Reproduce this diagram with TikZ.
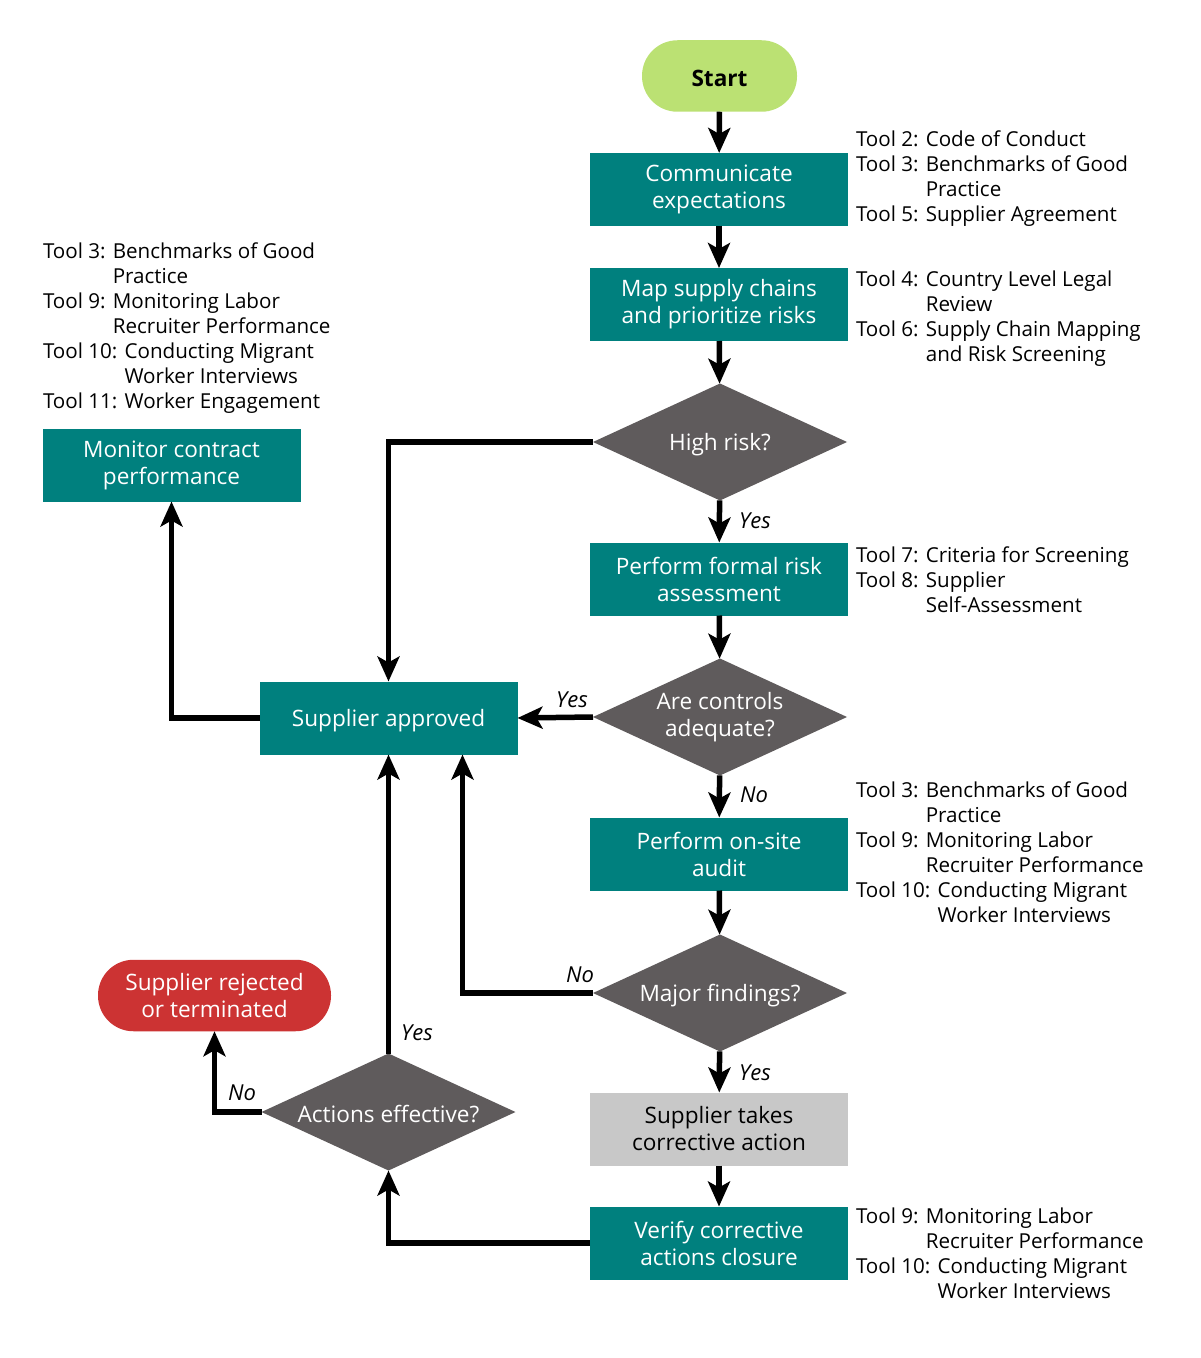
\documentclass[tikz,border=0pt]{standalone}
\usepackage{fontspec}
\setmainfont{Open Sans}
\usetikzlibrary{shapes.geometric,arrows.meta,calc}
\definecolor{teal1}{RGB}{0,128,126}
\definecolor{dgray}{RGB}{95,91,92}
\definecolor{lgreen}{RGB}{187,225,115}
\definecolor{red1}{RGB}{204,51,51}
\definecolor{lgray}{RGB}{200,200,200}
\newcommand{\ind}[1]{\phantom{#1}}
\tikzset{
  every node/.style={inner sep=0pt, outer sep=0pt},
  proc/.style={rectangle, fill=teal1, text=white, minimum width=129pt, minimum height=36.5pt,
    align=center, font=\fontsize{11.3}{13.5}\selectfont, execute at begin node={\rule{0pt}{11.5pt}}},
  graybox/.style={proc, fill=lgray, text=black},
  decision/.style={diamond, aspect=2.17, fill=dgray, text=white, minimum width=127pt, minimum height=58.5pt,
    align=center, font=\fontsize{11.3}{13.5}\selectfont, execute at begin node={\rule{0pt}{11pt}}},
  term/.style={rectangle, rounded corners=17.75pt, minimum height=35.75pt, align=center,
    font=\fontsize{11.3}{13.5}\selectfont, execute at begin node={\rule{0pt}{11pt}}},
  tools/.style={anchor=base west, align=left, font=\fontsize{10.3}{12.45}\selectfont},
  lab/.style={font=\fontsize{11}{13}\selectfont\itshape},
  arr/.style={line width=2.75pt, -{Stealth[length=12.5pt, width=11pt, inset=3pt]}},
}
\begin{document}
\begin{tikzpicture}[x=0.5pt, y=-0.5pt]
\useasboundingbox (0,0) rectangle (1200,1358);
% nodes
\node[term, fill=lgreen, minimum width=77.5pt, font=\fontsize{11.3}{13.5}\selectfont\bfseries] (start) at (719.5,76) {Start};
\node[proc] (comm) at (719,189.5) {Communicate\\expectations};
\node[proc] (map) at (719,304.5) {Map supply chains\\and prioritize risks};
\node[decision] (hr) at (720,442) {High risk?};
\node[proc] (pfra) at (719,579) {Perform formal risk\\assessment};
\node[decision] (ac) at (720,717) {Are controls\\adequate?};
\node[proc] (audit) at (719,854) {Perform on-site\\audit};
\node[decision] (mf) at (720,993) {Major findings?};
\node[graybox] (sup) at (719,1129) {Supplier takes\\corrective action};
\node[proc] (ver) at (719,1243) {Verify corrective\\actions closure};
\node[proc] (sa) at (388.5,718) {Supplier approved};
\node[proc] (mon) at (171.5,465) {Monitor contract\\performance};
\node[decision] (ae) at (388.5,1112) {Actions effective?};
\node[term, fill=red1, text=white, minimum width=116.5pt] (rej) at (214.5,995.5) {Supplier rejected\\or terminated};
% tool texts (anchored at the baseline of the last line)
\node[tools] (t1) at (856,221.2) {Tool 2: Code of Conduct\\Tool 3: Benchmarks of Good\\\ind{Tool 3: }Practice\\Tool 5: Supplier Agreement};
\node[tools] (t2) at (856,361.2) {Tool 4: Country Level Legal\\\ind{Tool 4: }Review\\Tool 6: Supply Chain Mapping\\\ind{Tool 6: }and Risk Screening};
\node[tools] (t3) at (43,408.3) {Tool 3: Benchmarks of Good\\\ind{Tool 3: }Practice\\Tool 9: Monitoring Labor\\\ind{Tool 9: }Recruiter Performance\\Tool 10: Conducting Migrant\\\ind{Tool 10: }Worker Interviews\\Tool 11: Worker Engagement};
\node[tools] (t4) at (856,612.3) {Tool 7: Criteria for Screening\\Tool 8: Supplier\\\ind{Tool 8: }Self-Assessment};
\node[tools] (t5) at (856,922) {Tool 3: Benchmarks of Good\\\ind{Tool 3: }Practice\\Tool 9: Monitoring Labor\\\ind{Tool 9: }Recruiter Performance\\Tool 10: Conducting Migrant\\\ind{Tool 10: }Worker Interviews};
\node[tools] (t6) at (856,1298.2) {Tool 9: Monitoring Labor\\\ind{Tool 9: }Recruiter Performance\\Tool 10: Conducting Migrant\\\ind{Tool 10: }Worker Interviews};
% connectors
\draw[arr] (start) -- (comm);
\draw[arr] (comm) -- (map);
\draw[arr] (map) -- (hr);
\draw[arr] (hr) -- (pfra);
\draw[arr] (pfra) -- (ac);
\draw[arr] (ac) -- (audit);
\draw[arr] (audit) -- (mf);
\draw[arr] (mf) -- (sup);
\draw[arr] (sup) -- (ver);
\draw[arr] (hr.west) -| (sa.north);
\draw[arr] (ac.west) -- (sa.east);
\draw[arr] (mf.west) -| ([xshift=37pt]sa.south);
\draw[arr] (ver.west) -| (ae.south);
\draw[arr] (ae.north) -- (sa.south);
\draw[arr] (ae.west) -| (rej.south);
\draw[arr] (sa.west) -| (mon.south);
% labels
\node[lab] (l1) at (755,521) {Yes};
\node[lab] (l2) at (572,700) {Yes};
\node[lab] (l3) at (754,795) {No};
\node[lab] (l4) at (580,975) {No};
\node[lab] (l5) at (755,1073) {Yes};
\node[lab] (l6) at (417,1033) {Yes};
\node[lab] (l7) at (242,1093) {No};
\end{tikzpicture}
\end{document}
